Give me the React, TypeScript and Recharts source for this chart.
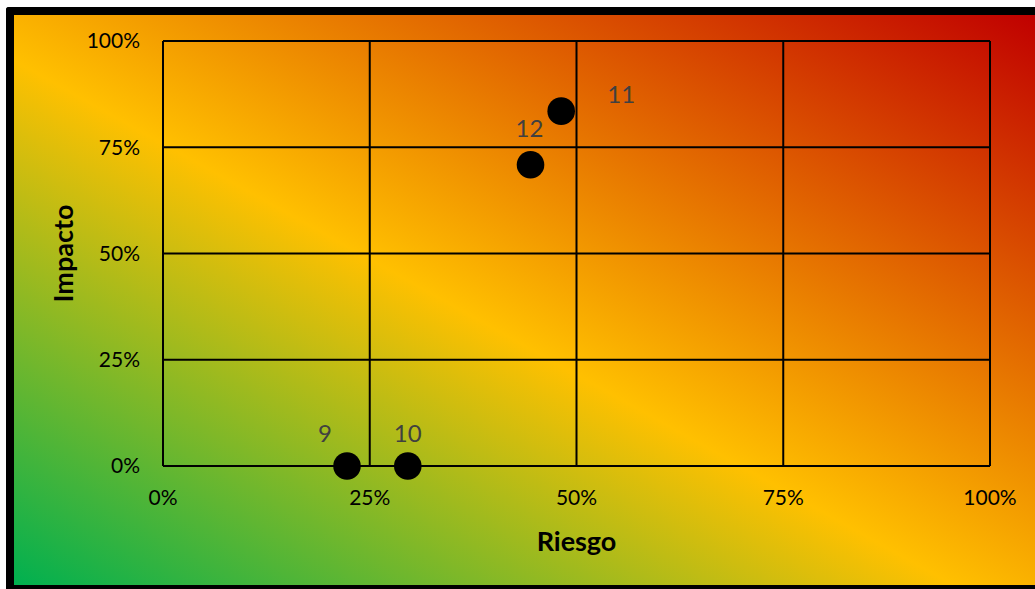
import React from "react";
import {
  ScatterChart,
  Scatter,
  XAxis,
  YAxis,
  CartesianGrid,
  LabelList,
} from "recharts";

// Risk items: id, risk (x) and impact (y) as fractions of 1
const ITEM_IDS = ["9", "10", "11", "12"];
const RIESGO = [0.2225, 0.296, 0.4815, 0.4444];
const IMPACTO = [0, 0, 0.835, 0.709];
const AXIS_TICKS = [0, 0.25, 0.5, 0.75, 1];

// where each id label sits relative to its marker (px)
const LABEL_OFFSETS: Record<string, [number, number]> = {
  "9": [-22, -34],
  "10": [0, -34],
  "11": [60, -18],
  "12": [-1, -37],
};

const FONT = "Lato, 'Open Sans', sans-serif";
const CHART_W = 1021;
const CHART_H = 570;

const points = ITEM_IDS.map((id, i) => ({ id, x: RIESGO[i], y: IMPACTO[i] }));

const pct = (v: number) => `${Math.round(v * 100)}%`;

const TICK = { fill: "#000", fontSize: 21, fontFamily: FONT };

function Dot(props: any) {
  const { cx, cy } = props;
  return <circle cx={cx} cy={cy} r={13.8} fill="#000" />;
}

function IdLabel(props: any) {
  const { x, y, width, height, value } = props;
  const [dx, dy] = LABEL_OFFSETS[value] ?? [0, -30];
  const cx = x + (width ?? 0) / 2;
  const cy = y + (height ?? 0) / 2;
  return (
    <text
      x={cx + dx}
      y={cy + dy}
      textAnchor="middle"
      dominantBaseline="central"
      fill="#404040"
      fontSize={24}
      fontFamily={FONT}
    >
      {value}
    </text>
  );
}

function XTitle(props: any) {
  const { viewBox } = props;
  return (
    <text
      x={viewBox.x + viewBox.width / 2}
      y={viewBox.y + 74}
      textAnchor="middle"
      dominantBaseline="central"
      fill="#000"
      fontSize={27}
      fontWeight="bold"
      fontFamily={FONT}
    >
      Riesgo
    </text>
  );
}

function YTitle(props: any) {
  const { viewBox } = props;
  const x = viewBox.x - 41;
  const y = viewBox.y + viewBox.height / 2;
  return (
    <text
      x={x}
      y={y}
      transform={`rotate(-90, ${x}, ${y})`}
      textAnchor="middle"
      dominantBaseline="central"
      fill="#000"
      fontSize={27}
      fontWeight="bold"
      fontFamily={FONT}
    >
      Impacto
    </text>
  );
}

export default function App() {
  return (
    <div
      style={{
        position: "absolute",
        left: 6,
        top: 7,
        width: 1029,
        height: 582,
        boxSizing: "border-box",
        borderLeft: "8px solid #000",
        borderTop: "8px solid #000",
        borderBottom: "4px solid #000",
        borderTopLeftRadius: 3,
        background:
          "linear-gradient(to top right, #00b050 0%, #ffc000 46%, #c00000 100%)",
        overflow: "hidden",
      }}
    >
      <ScatterChart
        width={CHART_W}
        height={CHART_H}
        margin={{ top: 26, right: 45, bottom: 89, left: 89 }}
      >
        <CartesianGrid stroke="#000" strokeWidth={2} />
        <XAxis
          type="number"
          dataKey="x"
          domain={[0, 1]}
          ticks={AXIS_TICKS}
          tickFormatter={pct}
          tick={TICK}
          tickLine={false}
          axisLine={false}
          tickSize={0}
          tickMargin={24}
          height={30}
          label={{ content: XTitle }}
        />
        <YAxis
          type="number"
          dataKey="y"
          domain={[0, 1]}
          ticks={AXIS_TICKS}
          tickFormatter={pct}
          tick={TICK}
          tickLine={false}
          axisLine={false}
          tickSize={0}
          tickMargin={23}
          width={60}
          label={{ content: YTitle }}
        />
        <Scatter data={points} shape={Dot} isAnimationActive={false}>
          <LabelList dataKey="id" content={IdLabel} />
        </Scatter>
      </ScatterChart>
    </div>
  );
}
